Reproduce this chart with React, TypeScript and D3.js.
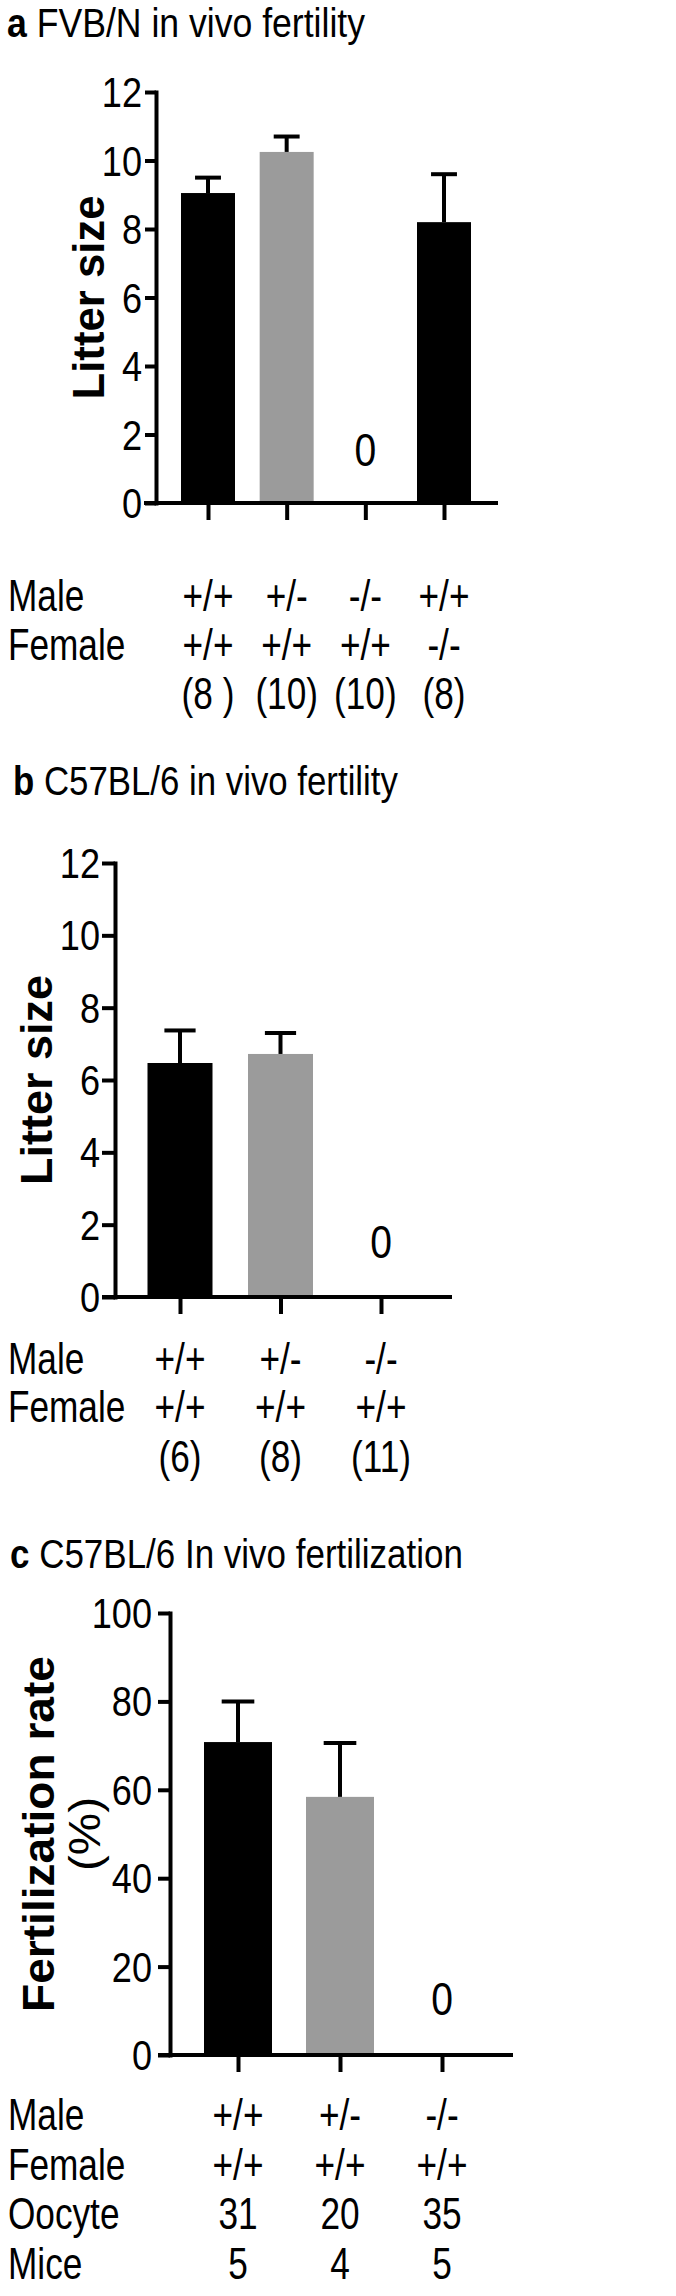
import React, { useEffect, useRef } from 'react';
import * as d3 from 'd3';

// a: FVB/N in vivo fertility
const aMale = ['+/+', '+/-', '-/-', '+/+'];
const aFemale = ['+/+', '+/+', '+/+', '-/-'];
const aN = ['(8 )', '(10)', '(10)', '(8)'];
const aLitter = [9.05, 10.25, 0, 8.2];
const aSem = [0.45, 0.45, 0, 1.4];
const aTicks = [0, 2, 4, 6, 8, 10, 12];

// b: C57BL/6 in vivo fertility
const bMale = ['+/+', '+/-', '-/-'];
const bFemale = ['+/+', '+/+', '+/+'];
const bN = ['(6)', '(8)', '(11)'];
const bLitter = [6.47, 6.72, 0];
const bSem = [0.9, 0.58, 0];
const bTicks = [0, 2, 4, 6, 8, 10, 12];

// c: C57BL/6 in vivo fertilization
const cMale = ['+/+', '+/-', '-/-'];
const cFemale = ['+/+', '+/+', '+/+'];
const cOocyte = ['31', '20', '35'];
const cMice = ['5', '4', '5'];
const cRate = [70.8, 58.4, 0];
const cSem = [9.2, 12.2, 0];
const cTicks = [0, 20, 40, 60, 80, 100];

const FONT = '"Liberation Sans", Arial, Helvetica, sans-serif';
const GREY = '#9b9b9b';
const fillFor: Record<string, string> = { '+/+': '#000', '+/-': GREY, '-/-': '#000' };

const panels = [
  {
    letter: 'a', title: 'FVB/N in vivo fertility', titleX: 7, titleY: 37, titleLen: 358,
    values: aLitter, sem: aSem, male: aMale, ticks: aTicks, max: 12,
    axisX: 156, top: 92, bottom: 503, xLeft: 144, xRight: 498, cx: [208, 444], barW: 54,
    tickLen: 11, tickPad: 3,
    yLabel: ['Litter size'], yLabelX: [104], yLabelLen: [204],
    rows: [
      { name: 'Male', vals: aMale, y: 611 },
      { name: 'Female', vals: aFemale, y: 660 },
      { name: '', vals: aN, y: 709 },
    ],
  },
  {
    letter: 'b', title: 'C57BL/6 in vivo fertility', titleX: 13, titleY: 795, titleLen: 385,
    values: bLitter, sem: bSem, male: bMale, ticks: bTicks, max: 12,
    axisX: 115, top: 863, bottom: 1297, xLeft: 102, xRight: 452, cx: [180, 381], barW: 65,
    tickLen: 13, tickPad: 2,
    yLabel: ['Litter size'], yLabelX: [52], yLabelLen: [210],
    rows: [
      { name: 'Male', vals: bMale, y: 1374 },
      { name: 'Female', vals: bFemale, y: 1422 },
      { name: '', vals: bN, y: 1472 },
    ],
  },
  {
    letter: 'c', title: 'C57BL/6 In vivo fertilization', titleX: 10, titleY: 1568, titleLen: 453,
    values: cRate, sem: cSem, male: cMale, ticks: cTicks, max: 100,
    axisX: 170, top: 1613, bottom: 2055, xLeft: 158, xRight: 513, cx: [238, 442], barW: 68,
    tickLen: 12, tickPad: 6,
    yLabel: ['Fertilization rate', '(%)'], yLabelX: [54, 100], yLabelLen: [356, 74],
    rows: [
      { name: 'Male', vals: cMale, y: 2130 },
      { name: 'Female', vals: cFemale, y: 2180 },
      { name: 'Oocyte', vals: cOocyte, y: 2229 },
      { name: 'Mice', vals: cMice, y: 2279 },
    ],
  },
];

// text squeezed horizontally, like the condensed face of the original figure
function putText(g: any, x: number, y: number, str: string, opts: any = {}) {
  const { size = 44, anchor = 'start', weight = 'normal', sx = 0.8, rotate = 0 } = opts;
  return g.append('text')
    .attr('transform', `translate(${x},${y}) rotate(${rotate}) scale(${sx},1)`)
    .attr('text-anchor', anchor)
    .attr('font-size', size)
    .attr('font-weight', weight)
    .attr('font-family', FONT)
    .attr('fill', '#000')
    .text(str);
}

function fitText(sel: any, x: number, y: number, rotate: number, target: number) {
  const w = sel.node().getComputedTextLength();
  sel.attr('transform', `translate(${x},${y}) rotate(${rotate}) scale(${target / w},1)`);
}

function drawPanel(svg: any, p: any) {
  const g = svg.append('g');
  const y = d3.scaleLinear().domain([0, p.max]).range([p.bottom, p.top]);
  const x = d3.scalePoint<string>()
    .domain(p.values.map((_: number, i: number) => String(i)))
    .range(p.cx);

  // title
  const t = g.append('text')
    .attr('font-size', 40)
    .attr('font-family', FONT)
    .attr('fill', '#000');
  t.append('tspan').attr('font-weight', 'bold').text(p.letter);
  t.append('tspan').text(' ' + p.title);
  fitText(t, p.titleX, p.titleY, 0, p.titleLen);

  // bars
  g.selectAll('rect.bar')
    .data(p.values)
    .join('rect')
    .attr('class', 'bar')
    .attr('x', (_: number, i: number) => (x(String(i)) as number) - p.barW / 2)
    .attr('y', (d: number) => y(d))
    .attr('width', p.barW)
    .attr('height', (d: number) => p.bottom - y(d))
    .attr('fill', (_: number, i: number) => fillFor[p.male[i]]);

  // error bars (upper only)
  const capW = p.barW * 0.48;
  p.values.forEach((v: number, i: number) => {
    const cx = x(String(i)) as number;
    if (v === 0) {
      putText(g, cx, y(p.max * 0.09), '0', { anchor: 'middle', size: 46, sx: 0.85 });
      return;
    }
    const top = y(v + p.sem[i]);
    g.append('line')
      .attr('x1', cx).attr('x2', cx)
      .attr('y1', y(v)).attr('y2', top)
      .attr('stroke', '#000').attr('stroke-width', 4);
    g.append('line')
      .attr('x1', cx - capW / 2).attr('x2', cx + capW / 2)
      .attr('y1', top).attr('y2', top)
      .attr('stroke', '#000').attr('stroke-width', 4);
  });

  // y axis
  const yAxis = g.append('g')
    .attr('transform', `translate(${p.axisX},0)`)
    .call(d3.axisLeft(y).tickValues(p.ticks).tickSize(p.tickLen).tickSizeOuter(0).tickPadding(p.tickPad));
  yAxis.select('.domain').attr('stroke-width', 4).attr('stroke-linecap', 'square').attr('stroke', '#000');
  yAxis.selectAll('.tick line').attr('stroke-width', 4).attr('stroke', '#000');
  yAxis.selectAll('.tick text').remove();
  p.ticks.forEach((v: number) => {
    putText(g, p.axisX - p.tickLen - p.tickPad, y(v) + 15, String(v), { anchor: 'end', size: 42, sx: 0.86 });
  });

  // x axis
  g.append('line')
    .attr('x1', p.xLeft).attr('x2', p.xRight)
    .attr('y1', p.bottom).attr('y2', p.bottom)
    .attr('stroke', '#000').attr('stroke-width', 4);
  const xAxis = g.append('g')
    .attr('transform', `translate(0,${p.bottom})`)
    .call(d3.axisBottom(x).tickSize(17).tickSizeOuter(0).tickFormat(() => ''));
  xAxis.select('.domain').remove();
  xAxis.selectAll('.tick line').attr('stroke-width', 4).attr('stroke', '#000');

  // y label
  const mid = (p.top + p.bottom) / 2;
  p.yLabel.forEach((txt: string, k: number) => {
    const lab = putText(g, 0, 0, txt, {
      anchor: 'middle', size: 45, weight: k === 0 ? 'bold' : 'normal', sx: 1,
    });
    fitText(lab, p.yLabelX[k], mid, -90, p.yLabelLen[k]);
  });

  // genotype table under the axis
  p.rows.forEach((row: any) => {
    if (row.name) putText(g, 8, row.y, row.name);
    row.vals.forEach((v: string, i: number) => {
      putText(g, x(String(i)) as number, row.y, v, { anchor: 'middle' });
    });
  });
}

const App = () => {
  const svgRef = useRef<SVGSVGElement | null>(null);

  useEffect(() => {
    const svg = d3.select(svgRef.current);
    svg.selectAll('*').remove();
    panels.forEach(p => drawPanel(svg, p));
  }, []);

  return (
    <svg
      ref={svgRef}
      width={676}
      height={2296}
      style={{ position: 'absolute', left: 0, top: 0, background: '#fff' }}
    />
  );
};

export default App;
